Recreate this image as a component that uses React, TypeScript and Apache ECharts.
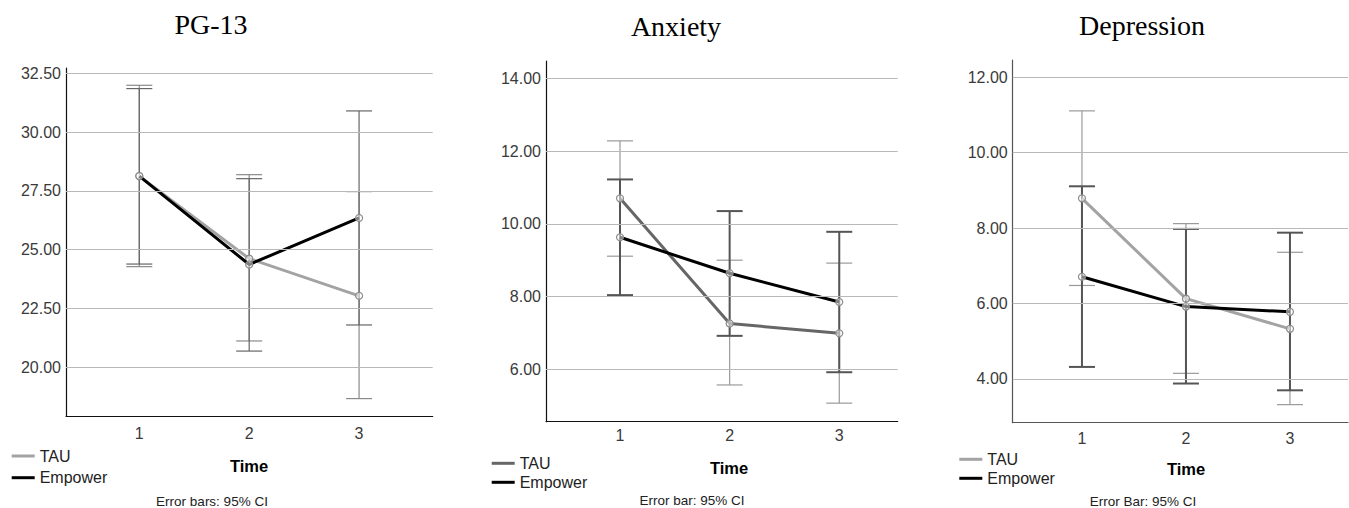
import React, { useEffect, useRef } from "react";
import * as echarts from "echarts";

// ---- Data ----
const times = [1, 2, 3];

// PG-13
const pgTau = [28.13, 24.62, 23.04];
const pgTauLow = [24.28, 21.12, 18.67];
const pgTauHigh = [31.99, 28.19, 27.47];
const pgEmp = [28.13, 24.37, 26.35];
const pgEmpLow = [24.39, 20.69, 21.8];
const pgEmpHigh = [31.85, 28.02, 30.9];
const pgTicks = [20, 22.5, 25, 27.5, 30, 32.5];

// Anxiety
const axTau = [10.7, 7.26, 6.99];
const axTauLow = [9.11, 5.57, 5.07];
const axTauHigh = [12.28, 9.0, 8.92];
const axEmp = [9.63, 8.64, 7.85];
const axEmpLow = [8.04, 6.92, 5.92];
const axEmpHigh = [11.22, 10.35, 9.78];
const axTicks = [6, 8, 10, 12, 14];

// Depression
const dpTau = [8.79, 6.13, 5.33];
const dpTauLow = [6.48, 4.15, 3.32];
const dpTauHigh = [11.11, 8.12, 7.36];
const dpEmp = [6.71, 5.92, 5.78];
const dpEmpLow = [4.32, 3.88, 3.7];
const dpEmpHigh = [9.11, 7.98, 7.88];
const dpTicks = [4, 6, 8, 10, 12];

const titles = ["PG-13", "Anxiety", "Depression"];
const groupNames = ["TAU", "Empower"];
const xAxisTitle = "Time";
const notes = ["Error bars: 95% CI", "Error bar: 95% CI", "Error Bar: 95% CI"];

// ---- Layout / style (not data) ----
const W = 1349;
const H = 508;
const SANS = "Liberation Sans, Arial, sans-serif";
const SERIF = "Liberation Serif, Times New Roman, serif";

const panels = [
  {
    tau: pgTau, tauLow: pgTauLow, tauHigh: pgTauHigh,
    emp: pgEmp, empLow: pgEmpLow, empHigh: pgEmpHigh,
    ticks: pgTicks,
    grid: { left: 66, right: W - 432.7, top: 68, bottom: H - 416 },
    yMin: 17.93, yMax: 32.725, xMin: 0.333, xMax: 3.67,
    tauColor: "#a3a3a3", tauErr: "#8a8a8a", tauErrW: 1.2, empErr: "#666", empErrW: 1.2,
    axisColor: "#111", labelMargin: 9,
    titleX: 211, titleY: 24,
    legX: 11.7, legY1: 456, legY2: 477.7,
    timeX: 249, timeY: 466,
    noteX: 212, noteY: 501.5,
  },
  {
    tau: axTau, tauLow: axTauLow, tauHigh: axTauHigh,
    emp: axEmp, empLow: axEmpLow, empHigh: axEmpHigh,
    ticks: axTicks,
    grid: { left: 546, right: W - 897.7, top: 61, bottom: H - 421.7 },
    yMin: 4.56, yMax: 14.476, xMin: 0.325, xMax: 3.533,
    tauColor: "#666666", tauErr: "#9a9a9a", tauErrW: 1.2, empErr: "#555", empErrW: 2,
    axisColor: "#111", labelMargin: 6,
    titleX: 676, titleY: 26,
    legX: 491.7, legY1: 463.3, legY2: 482.3,
    timeX: 729, timeY: 468,
    noteX: 692, noteY: 500,
  },
  {
    tau: dpTau, tauLow: dpTauLow, tauHigh: dpTauHigh,
    emp: dpEmp, empLow: dpEmpLow, empHigh: dpEmpHigh,
    ticks: dpTicks,
    grid: { left: 1012.7, right: 1, top: 60, bottom: H - 422.7 },
    yMin: 2.841, yMax: 12.459, xMin: 0.334, xMax: 3.558,
    tauColor: "#a3a3a3", tauErr: "#9a9a9a", tauErrW: 1.2, empErr: "#555", empErrW: 2,
    axisColor: "#555", labelMargin: 8,
    titleX: 1142, titleY: 25,
    legX: 959.3, legY1: 459.3, legY2: 478.3,
    timeX: 1186, timeY: 469,
    noteX: 1143, noteY: 501.5,
  },
];

function errRender(color: string, width: number) {
  return (params: any, api: any) => {
    const x = api.value(0);
    const lo = api.coord([x, api.value(1)]);
    const hi = api.coord([x, api.value(2)]);
    const hw = 13;
    const style = { stroke: color, lineWidth: width };
    return {
      type: "group",
      children: [
        { type: "line", shape: { x1: lo[0], y1: lo[1], x2: hi[0], y2: hi[1] }, style },
        { type: "line", shape: { x1: lo[0] - hw, y1: lo[1], x2: lo[0] + hw, y2: lo[1] }, style },
        { type: "line", shape: { x1: hi[0] - hw, y1: hi[1], x2: hi[0] + hw, y2: hi[1] }, style },
      ],
    };
  };
}

function buildOption() {
  const grid: any[] = [];
  const xAxis: any[] = [];
  const yAxis: any[] = [];
  const series: any[] = [];
  const graphic: any[] = [];

  panels.forEach((p, i) => {
    grid.push({ ...p.grid, containLabel: false });
    xAxis.push({
      type: "value",
      gridIndex: i,
      min: p.xMin,
      max: p.xMax,
      axisLine: { show: true, lineStyle: { color: p.axisColor, width: 1.2 } },
      axisTick: { show: false },
      splitLine: { show: false },
      axisLabel: {
        customValues: times,
        margin: p.labelMargin,
        fontFamily: SANS,
        fontSize: 16,
        color: "#3a3a3a",
        formatter: (v: number) => String(v),
      },
    });
    yAxis.push({
      type: "value",
      gridIndex: i,
      min: p.yMin,
      max: p.yMax,
      axisLine: { show: true, onZero: false, lineStyle: { color: p.axisColor, width: 1.2 } },
      axisTick: { show: false },
      splitLine: { show: false },
      axisLabel: {
        customValues: p.ticks,
        margin: 5,
        fontFamily: SANS,
        fontSize: 16,
        color: "#3a3a3a",
        formatter: (v: number) => v.toFixed(2),
      },
    });

    // gridlines via markLine
    series.push({
      type: "line",
      xAxisIndex: i,
      yAxisIndex: i,
      data: [[times[0], p.ticks[0]]],
      showSymbol: false,
      lineStyle: { opacity: 0 },
      silent: true,
      z: 0,
      markLine: {
        silent: true,
        symbol: "none",
        label: { show: false },
        lineStyle: { color: "#b8b8b8", width: 1, type: "solid" },
        data: p.ticks.map((v) => ({ yAxis: v })),
      },
    });

    // error bars
    series.push({
      type: "custom",
      name: groupNames[0],
      xAxisIndex: i,
      yAxisIndex: i,
      z: 1,
      renderItem: errRender(p.tauErr, p.tauErrW),
      encode: { x: 0, y: [1, 2] },
      data: times.map((t, k) => [t, p.tauLow[k], p.tauHigh[k]]),
    });
    series.push({
      type: "custom",
      name: groupNames[1],
      xAxisIndex: i,
      yAxisIndex: i,
      z: 1,
      renderItem: errRender(p.empErr, p.empErrW),
      encode: { x: 0, y: [1, 2] },
      data: times.map((t, k) => [t, p.empLow[k], p.empHigh[k]]),
    });

    // mean lines
    const sym = {
      symbol: "circle",
      symbolSize: 7,
      itemStyle: { color: "rgba(255,255,255,0.5)", borderColor: "#8c8c8c", borderWidth: 1.2 },
    };
    series.push({
      type: "line",
      name: groupNames[0],
      xAxisIndex: i,
      yAxisIndex: i,
      z: 3,
      data: times.map((t, k) => [t, p.tau[k]]),
      lineStyle: { color: p.tauColor, width: 3 },
      ...sym,
    });
    series.push({
      type: "line",
      name: groupNames[1],
      xAxisIndex: i,
      yAxisIndex: i,
      z: 4,
      data: times.map((t, k) => [t, p.emp[k]]),
      lineStyle: { color: "#000", width: 3 },
      ...sym,
    });

    // texts
    graphic.push({
      type: "text",
      x: p.titleX,
      y: p.titleY,
      style: {
        text: titles[i],
        font: `28px ${SERIF}`,
        fill: "#000",
        textAlign: "center",
        textVerticalAlign: "middle",
      },
    });
    graphic.push({
      type: "line",
      shape: { x1: p.legX, y1: p.legY1, x2: p.legX + 23, y2: p.legY1 },
      style: { stroke: p.tauColor, lineWidth: 3 },
    });
    graphic.push({
      type: "line",
      shape: { x1: p.legX, y1: p.legY2, x2: p.legX + 23, y2: p.legY2 },
      style: { stroke: "#000", lineWidth: 3 },
    });
    graphic.push({
      type: "text",
      x: p.legX + 28,
      y: p.legY1,
      style: { text: groupNames[0], font: `16px ${SANS}`, fill: "#222", textAlign: "left", textVerticalAlign: "middle" },
    });
    graphic.push({
      type: "text",
      x: p.legX + 28,
      y: p.legY2,
      style: { text: groupNames[1], font: `16px ${SANS}`, fill: "#222", textAlign: "left", textVerticalAlign: "middle" },
    });
    graphic.push({
      type: "text",
      x: p.timeX,
      y: p.timeY,
      style: { text: xAxisTitle, font: `bold 16.5px ${SANS}`, fill: "#000", textAlign: "center", textVerticalAlign: "middle" },
    });
    graphic.push({
      type: "text",
      x: p.noteX,
      y: p.noteY,
      style: { text: notes[i], font: `13.5px ${SANS}`, fill: "#222", textAlign: "center", textVerticalAlign: "middle" },
    });
  });

  return {
    animation: false,
    backgroundColor: "#fff",
    grid,
    xAxis,
    yAxis,
    series,
    graphic,
  };
}

export default function App() {
  const ref = useRef<HTMLDivElement>(null);
  useEffect(() => {
    if (!ref.current) return;
    const chart = echarts.init(ref.current, undefined, { renderer: "svg" });
    chart.setOption(buildOption() as any);
    return () => chart.dispose();
  }, []);
  return (
    <div
      ref={ref}
      style={{ position: "fixed", left: 0, top: 0, width: W, height: H, background: "#fff" }}
    />
  );
}
